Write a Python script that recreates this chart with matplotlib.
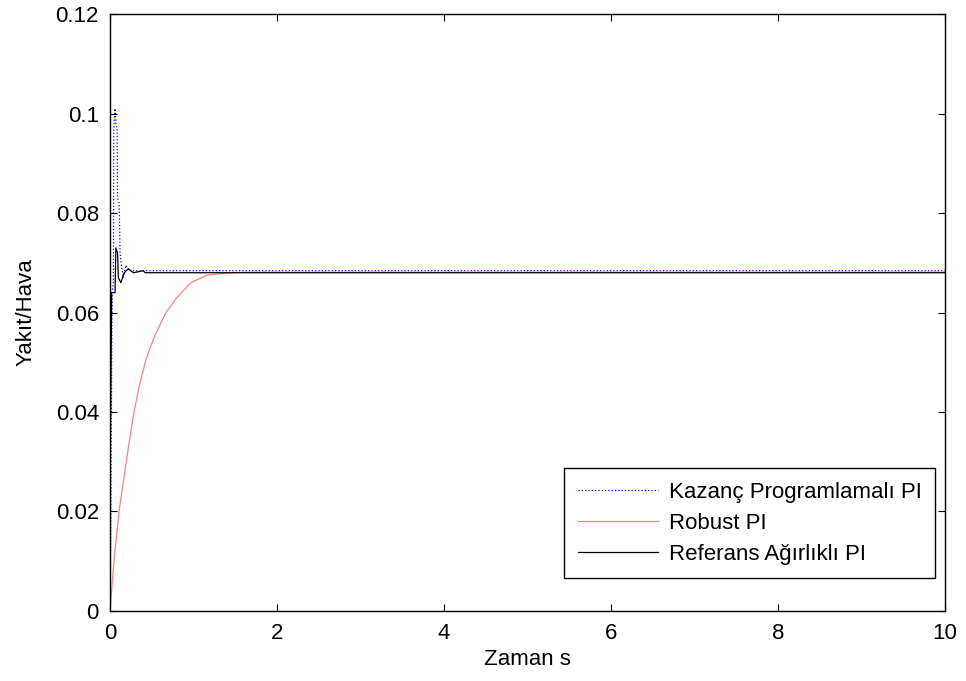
import matplotlib
matplotlib.use("Agg")
import matplotlib.pyplot as plt

plt.rcParams['font.family'] = ['Liberation Sans', 'DejaVu Sans']

# gain scheduled PI response
t_kp = [0, 0.01, 0.025, 0.04, 0.045, 0.06, 0.07, 0.085, 0.09, 0.11, 0.12, 0.14,
        0.16, 0.19, 0.22, 10]
y_kp = [0, 0.020, 0.064, 0.066, 0.097, 0.101, 0.098, 0.097, 0.083, 0.082, 0.072,
        0.069, 0.067, 0.0695, 0.0684, 0.0684]

# robust PI response
t_rb = [0, 0.048, 0.108, 0.168, 0.228, 0.287, 0.347, 0.43, 0.527, 0.67, 0.80,
        0.97, 1.16, 1.37, 1.6, 10]
y_rb = [0, 0.0103, 0.020, 0.027, 0.0338, 0.040, 0.045, 0.0505, 0.055, 0.060,
        0.063, 0.066, 0.0675, 0.0679, 0.0681, 0.0681]

# reference weighted PI response
t_rw = [0, 0.005, 0.02, 0.06, 0.07, 0.09, 0.10, 0.13, 0.17, 0.22, 0.28, 0.40,
        0.42, 10]
y_rw = [0, 0.037, 0.064, 0.064, 0.073, 0.072, 0.067, 0.066, 0.068, 0.0688,
        0.068, 0.0684, 0.0680, 0.0680]

fs = 16

fig = plt.figure(figsize=(9.66, 6.81), dpi=100)
ax = fig.add_axes([0.1139, 0.1028, 0.8644, 0.8766])

ax.plot(t_kp, y_kp, color='blue', ls=':', lw=0.9, label='Kazanç Programlamalı PI')
ax.plot(t_rb, y_rb, color='#ff8080', lw=0.9, label='Robust PI')
ax.plot(t_rw, y_rw, color='black', lw=0.9, label='Referans Ağırlıklı PI')

ax.set_xlim(0, 10)
ax.set_ylim(0, 0.12)
ax.set_xticks([0, 2, 4, 6, 8, 10])
ax.set_yticks([0, 0.02, 0.04, 0.06, 0.08, 0.1, 0.12])
ax.set_yticklabels(['0', '0.02', '0.04', '0.06', '0.08', '0.1', '0.12'])
ax.tick_params(direction='in', length=5, top=True, right=True, labelsize=fs)
ax.tick_params(axis='y', pad=8)
ax.tick_params(axis='x', pad=9)
for s in ax.spines.values():
    s.set_linewidth(1.0)

ax.set_xlabel('Zaman s', fontsize=fs, labelpad=3)
ax.set_ylabel('Yakıt/Hava', fontsize=fs, labelpad=14)

leg = ax.legend(loc='lower right', bbox_to_anchor=(0.988, 0.0553), fontsize=fs,
                fancybox=False, edgecolor='black', framealpha=1, handlelength=3.6,
                borderpad=0.6, labelspacing=0.45, handletextpad=0.5,
                borderaxespad=0)
leg.get_frame().set_linewidth(1.0)

fig.savefig('out.png', dpi=100)
